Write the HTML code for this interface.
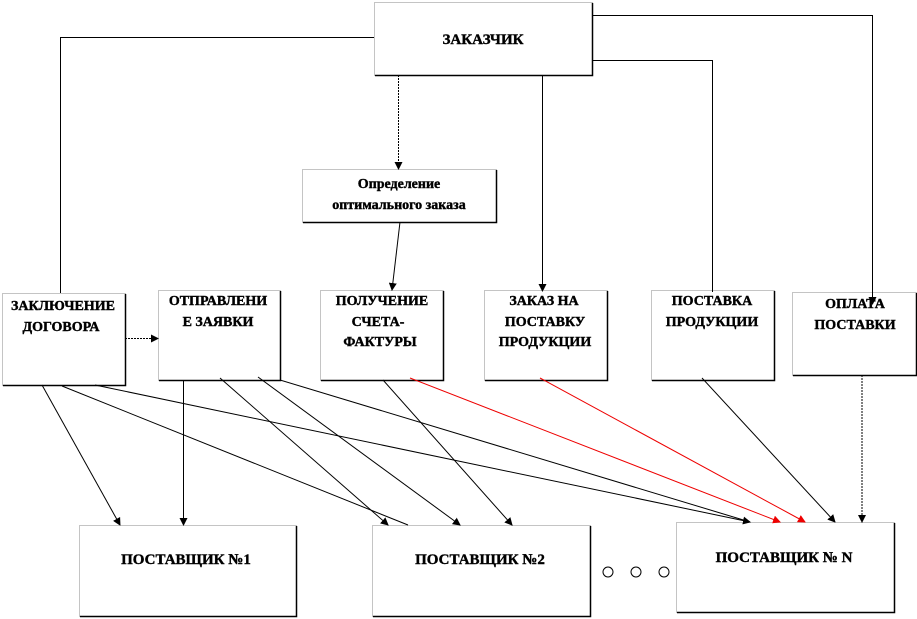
<!DOCTYPE html>
<html><head><meta charset="utf-8"><style>
body{margin:0;background:#fff}
svg{display:block}
text{font-family:"Liberation Serif",serif;font-weight:bold;font-size:14px;fill:#000;stroke:#000;stroke-width:0.4;text-anchor:middle}
text.b{font-size:15px}
</style></head><body>
<svg width="917" height="619" viewBox="0 0 917 619">
<defs><marker id="a" markerWidth="8" markerHeight="8" refX="7" refY="4" orient="auto" markerUnits="userSpaceOnUse"><path d="M0,0 L8,4 L0,8z" fill="#000"/></marker>
<marker id="r" markerWidth="8" markerHeight="8" refX="7" refY="4" orient="auto" markerUnits="userSpaceOnUse"><path d="M0,0 L8,4 L0,8z" fill="#e00"/></marker></defs>
<g fill="#fff" stroke="#888" stroke-width="1" stroke-dasharray="1,1">
<rect x="374.5" y="2.5" width="218" height="73"/>
<rect x="302.5" y="169.5" width="194" height="53"/>
<rect x="2.5" y="293.5" width="123" height="92"/>
<rect x="158.5" y="290.5" width="122" height="90"/>
<rect x="320.5" y="290.5" width="123" height="90"/>
<rect x="484.5" y="290.5" width="123" height="90"/>
<rect x="651.5" y="290.5" width="123" height="90"/>
<rect x="792.5" y="292.5" width="124" height="83"/>
<rect x="79.5" y="525.5" width="217" height="91"/>
<rect x="372.5" y="525.5" width="218" height="91"/>
<rect x="676.5" y="522.5" width="218" height="90"/>
</g>
<g stroke="#000" stroke-width="1.5" fill="none">
<path d="M592.5,3V75.5H375 M496.5,170V222.5H303 M125.5,294V385.5H3 M280.5,291V380.5H159 M443.5,291V380.5H321 M607.5,291V380.5H485 M774.5,291V380.5H652 M916.5,293V375.5H793 M296.5,526V616.5H80 M590.5,526V616.5H373 M894.5,523V612.5H677"/>
</g>
<g stroke="#000" stroke-width="1" fill="none">
<path d="M60.5,293V37.5H374"/>
<path d="M592,15.5H872.5V304" marker-end="url(#a)"/>
<path d="M592,60.5H712.5V292"/>
<path d="M398.5,75V169" marker-end="url(#a)" stroke-dasharray="2,1"/>
<path d="M542.5,75V291" marker-end="url(#a)"/>
<path d="M400,222L392,290" marker-end="url(#a)"/>
<path d="M125,338.5H158" marker-end="url(#a)" stroke-dasharray="2,1"/>
<path d="M42,385L120,525" marker-end="url(#a)"/>
<path d="M62,386L408,525"/>
<path d="M95,385L750,522" marker-end="url(#a)"/>
<path d="M183.5,380V525" marker-end="url(#a)"/>
<path d="M220,378L388,525" marker-end="url(#a)"/>
<path d="M258,377L460,525" marker-end="url(#a)"/>
<path d="M280,380L750,522"/>
<path d="M383,380L512,525" marker-end="url(#a)"/>
<path d="M702,378L835,522" marker-end="url(#a)"/>
<path d="M862,375L862,522" marker-end="url(#a)" stroke-dasharray="2,1"/>
<path d="M410,378L780,522" stroke="#e00" marker-end="url(#r)"/>
<path d="M540,378L805,522" stroke="#e00" marker-end="url(#r)"/>
<circle cx="608" cy="572" r="5"/><circle cx="636" cy="572" r="5"/><circle cx="664" cy="572" r="5"/>
</g>
<text class="b" x="483" y="44">ЗАКАЗЧИК</text>
<text x="399" y="188">Определение</text>
<text x="399" y="209">оптимального заказа</text>
<text x="63" y="310">ЗАКЛЮЧЕНИЕ</text>
<text x="61" y="331">ДОГОВОРА</text>
<text x="218" y="305">ОТПРАВЛЕНИ</text>
<text x="218" y="326">Е ЗАЯВКИ</text>
<text x="382" y="305">ПОЛУЧЕНИЕ</text>
<text x="378" y="326">СЧЕТА-</text>
<text x="380" y="346">ФАКТУРЫ</text>
<text x="544" y="305">ЗАКАЗ НА</text>
<text x="545" y="326">ПОСТАВКУ</text>
<text x="545" y="346">ПРОДУКЦИИ</text>
<text x="712" y="305">ПОСТАВКА</text>
<text x="712" y="326">ПРОДУКЦИИ</text>
<text x="855" y="308">ОПЛАТА</text>
<text x="855" y="329">ПОСТАВКИ</text>
<text class="b" x="186" y="564">ПОСТАВЩИК №1</text>
<text class="b" x="480" y="564">ПОСТАВЩИК №2</text>
<text class="b" x="784" y="562">ПОСТАВЩИК № N</text>
</svg>
</body></html>
